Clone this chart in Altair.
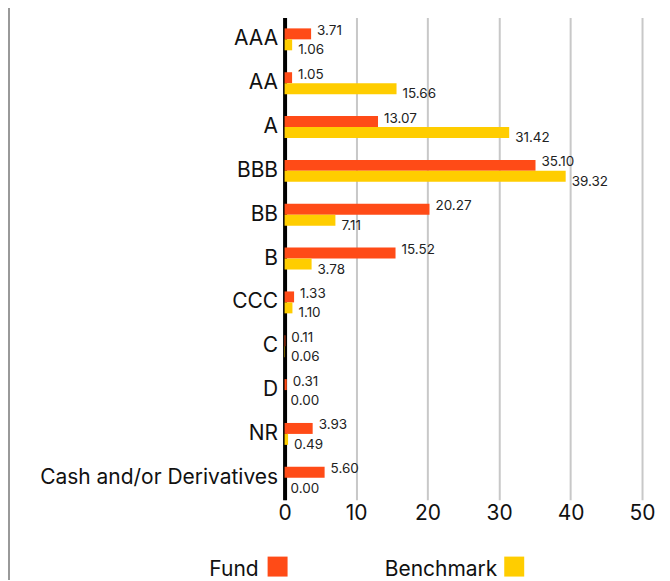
import altair as alt
import pandas as pd

categories = ["AAA", "AA", "A", "BBB", "BB", "B", "CCC", "C", "D", "NR",
              "Cash and/or Derivatives"]
fund = [3.71, 1.05, 13.07, 35.10, 20.27, 15.52, 1.33, 0.11, 0.31, 3.93, 5.60]
benchmark = [1.06, 15.66, 31.42, 39.32, 7.11, 3.78, 1.10, 0.06, 0.00, 0.49, 0.00]
series_names = ["Fund", "Benchmark"]
series_colors = ["#FF4B17", "#FFCD00"]
x_ticks = [0, 10, 20, 30, 40, 50]

rows = []
for c, f, b in zip(categories, fund, benchmark):
    rows.append({"category": c, "series": "Fund", "value": f})
    rows.append({"category": c, "series": "Benchmark", "value": b})
df = pd.DataFrame(rows)

FONT = "Inter"
W, H = 358, 483

color_scale = alt.Scale(domain=series_names, range=series_colors)
y_enc = alt.Y("category:N", sort=categories,
              scale=alt.Scale(paddingInner=0.5, paddingOuter=0.25),
              axis=alt.Axis(title=None, ticks=False, labelFontSize=21,
                            labelFont=FONT, labelColor="#111", labelPadding=7,
                            domainColor="#000", domainWidth=4, labelLimit=400))
x_enc = alt.X("value:Q", scale=alt.Scale(domain=[0, 50], nice=False),
              axis=alt.Axis(title=None, values=x_ticks, ticks=False, domain=False,
                            labelFontSize=21, labelFont=FONT, labelColor="#111",
                            labelPadding=3, grid=True, gridColor="#c8c8c8",
                            gridWidth=2, labelFlush=False))
yoff = alt.YOffset("series:N", sort=series_names)

base = alt.Chart(df)
bars = base.mark_bar().encode(
    y=y_enc, x=x_enc, yOffset=yoff,
    color=alt.Color("series:N", scale=color_scale, legend=None),
)

def labels(name, dy):
    return base.transform_filter(alt.datum.series == name).mark_text(
        align="left", baseline="middle", dx=6, dy=dy, fontSize=13.5, font=FONT,
        color="#222"
    ).encode(
        y=alt.Y("category:N", sort=categories), x="value:Q", yOffset=yoff,
        text=alt.Text("value:Q", format=".2f"),
    )

leg = pd.DataFrame({"series": series_names})

def legend_item(name, sq_x, txt_x):
    d = alt.Chart(leg).transform_filter(alt.datum.series == name)
    sq = d.mark_square(size=400, opacity=1, filled=True).encode(
        x=alt.value(sq_x), y=alt.value(550),
        color=alt.Color("series:N", scale=color_scale, legend=None))
    tx = d.mark_text(align="right", baseline="alphabetic", fontSize=21,
                     font=FONT, color="#111").encode(
        x=alt.value(txt_x), y=alt.value(559), text="series:N")
    return sq + tx

border = alt.Chart(leg).mark_rule(color="#999", strokeWidth=2).encode(
    x=alt.value(-276), y=alt.value(-17), y2=alt.value(575))

chart = alt.layer(
    bars, labels("Fund", -3), labels("Benchmark", 5.5),
    legend_item("Fund", -7, -26), legend_item("Benchmark", 230, 213),
    border,
).properties(
    width=W, height=H,
    autosize=alt.AutoSizeParams(type="none"),
    padding={"left": 277, "top": 9, "right": 20, "bottom": 80},
).configure_view(stroke=None)

chart.save("out.html", embed_options={"renderer": "svg", "actions": False})
